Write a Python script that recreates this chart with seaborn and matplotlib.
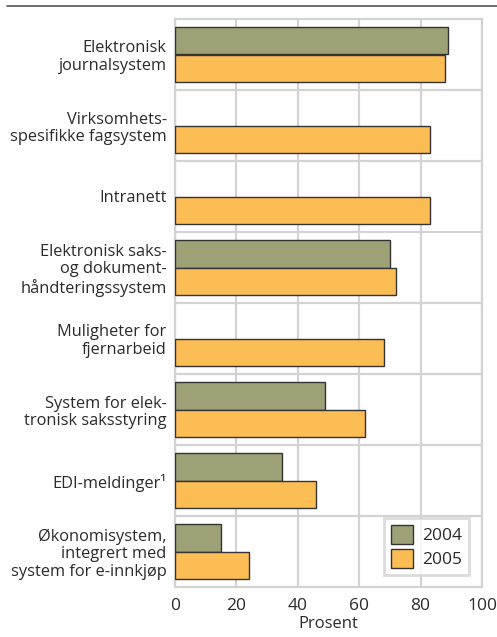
import numpy as np
import pandas as pd
import matplotlib
matplotlib.use("Agg")
import matplotlib.pyplot as plt
import matplotlib.transforms as mtransforms
import seaborn as sns
from matplotlib.lines import Line2D

categories = [
    "Elektronisk\njournalsystem",
    "Virksomhets-\nspesifikke fagsystem",
    "Intranett",
    "Elektronisk saks-\nog dokument-\nhåndteringssystem",
    "Muligheter for\nfjernarbeid",
    "System for elek-\ntronisk saksstyring",
    "EDI-meldinger\u00b9",
    "Økonomisystem,\nintegrert med\nsystem for e-innkjøp",
]
values_2004 = [89, None, None, 70, None, 49, 35, 15]
values_2005 = [88, 83, 83, 72, 68, 62, 46, 24]
years = ["2004", "2005"]
xticks = [0, 20, 40, 60, 80, 100]

sns.set_theme(style="white")
plt.rcParams["font.family"] = ["Open Sans", "DejaVu Sans"]

rows = []
for c, a, b in zip(categories, values_2004, values_2005):
    if a is not None:
        rows.append({"cat": c, "year": years[0], "val": a})
    rows.append({"cat": c, "year": years[1], "val": b})
df = pd.DataFrame(rows)

fig = plt.figure(figsize=(4.97, 6.37), dpi=100)
ax = fig.add_axes([175 / 497, 1 - 587 / 637, 307 / 497, 568 / 637])

grid_c = "#d3d3d3"
text_c = "#2b2b2b"

sns.barplot(data=df, y="cat", x="val", hue="year", order=categories,
            hue_order=years, orient="h", width=0.77, saturation=1,
            palette={"2004": "#9da175", "2005": "#fdbd55"},
            edgecolor="#333333", linewidth=1.0, ax=ax, zorder=3)

ax.set_xlim(0, 100)
ax.set_ylim(len(categories) - 0.5, -0.5)
ax.set_xticks(xticks)
ax.set_xticklabels([str(t) for t in xticks], fontsize=12.5, color=text_c)
ax.set_yticks(range(len(categories)))
ax.set_yticklabels(categories, fontsize=11.8, color=text_c, linespacing=1.13)
offset = mtransforms.ScaledTranslation(0, -2 / 100, fig.dpi_scale_trans)
for lab in ax.get_yticklabels():
    lab.set_multialignment("right")
    lab.set_transform(lab.get_transform() + offset)
ax.tick_params(axis="both", length=0, pad=6)
ax.tick_params(axis="x", pad=8)
ax.set_yticks(np.arange(0.5, len(categories) - 0.5, 1), minor=True)
ax.grid(axis="x", which="major", color=grid_c, linewidth=1.6, zorder=0)
ax.grid(axis="y", which="minor", color=grid_c, linewidth=1.6, zorder=0)
ax.grid(axis="y", which="major", visible=False)
ax.set_axisbelow(True)
for s in ax.spines.values():
    s.set_color(grid_c)
    s.set_linewidth(1.6)
ax.set_ylabel("")
ax.set_xlabel("Prosent", fontsize=12, color=text_c, labelpad=1)

leg = ax.legend(loc="lower right", bbox_to_anchor=(0.985, 0.006), fontsize=12.5,
                frameon=True, fancybox=False, handlelength=1.3, handleheight=1.3,
                handletextpad=0.5, borderpad=0.4, labelspacing=0.25)
leg.get_frame().set_edgecolor(grid_c)
leg.get_frame().set_linewidth(2)
for t in leg.get_texts():
    t.set_color(text_c)

fig.add_artist(Line2D([7 / 497, 1.0], [1 - 6 / 637, 1 - 6 / 637],
                      color="#555555", linewidth=1.2))

fig.savefig("out.png", dpi=100)
